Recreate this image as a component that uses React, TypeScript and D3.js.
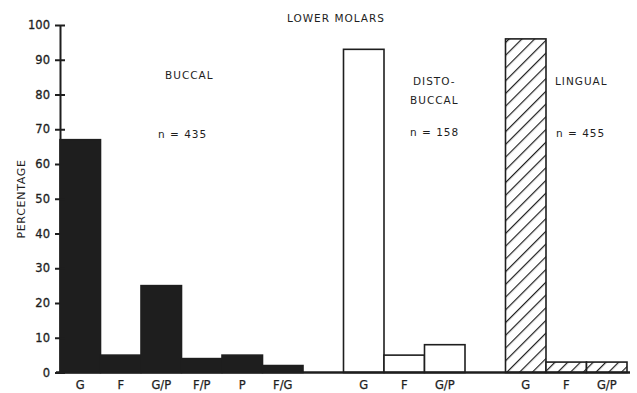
import React, { useEffect, useRef } from "react";
import * as d3 from "d3";

// values (percentage)
const buccalCats = ["G", "F", "G/P", "F/P", "P", "F/G"];
const buccalVals = [67, 5, 25, 4, 5, 2];
const distoCats = ["G", "F", "G/P"];
const distoVals = [93, 5, 8];
const lingualCats = ["G", "F", "G/P"];
const lingualVals = [96, 3, 3];
const yTicks = [0, 10, 20, 30, 40, 50, 60, 70, 80, 90, 100];

const App = () => {
  const ref = useRef<SVGSVGElement>(null);

  useEffect(() => {
    const width = 637;
    const height = 393;
    const font = "'DejaVu Sans', sans-serif";
    const ink = "#1e1e1e";

    const svg = d3.select(ref.current);
    svg.selectAll("*").remove();
    svg.attr("width", width).attr("height", height);

    // one slot per bar, with an empty slot between groups
    const rows: { key: string; cat: string; val: number; group: string }[] = [];
    buccalCats.forEach((c, i) => rows.push({ key: "b" + i, cat: c, val: buccalVals[i], group: "buccal" }));
    const slots = rows.map((r) => r.key);
    slots.push("gap1");
    distoCats.forEach((c, i) => {
      rows.push({ key: "d" + i, cat: c, val: distoVals[i], group: "disto" });
      slots.push("d" + i);
    });
    slots.push("gap2");
    lingualCats.forEach((c, i) => {
      rows.push({ key: "l" + i, cat: c, val: lingualVals[i], group: "lingual" });
      slots.push("l" + i);
    });

    const x = d3.scaleBand().domain(slots).range([60, 627]).padding(0);
    const y = d3.scaleLinear().domain([0, 100]).range([372.5, 25]);

    // hatch pattern
    const defs = svg.append("defs");
    const pat = defs
      .append("pattern")
      .attr("id", "hatch")
      .attr("patternUnits", "userSpaceOnUse")
      .attr("width", 9)
      .attr("height", 9)
      .attr("patternTransform", "rotate(45)");
    pat.append("rect").attr("width", 9).attr("height", 9).attr("fill", "#fff");
    pat
      .append("line")
      .attr("x1", 0)
      .attr("y1", 0)
      .attr("x2", 0)
      .attr("y2", 9)
      .attr("stroke", ink)
      .attr("stroke-width", 2.4);

    const fillFor = (g: string) => (g === "buccal" ? ink : g === "disto" ? "#fff" : "url(#hatch)");

    svg
      .selectAll(".bar")
      .data(rows)
      .enter()
      .append("rect")
      .attr("class", "bar")
      .attr("x", (d) => x(d.key)!)
      .attr("y", (d) => y(d.val))
      .attr("width", x.bandwidth())
      .attr("height", (d) => y(0) - y(d.val))
      .attr("fill", (d) => fillFor(d.group))
      .attr("stroke", ink)
      .attr("stroke-width", 1.6);

    // baseline
    svg
      .append("line")
      .attr("x1", 56)
      .attr("x2", 630)
      .attr("y1", y(0))
      .attr("y2", y(0))
      .attr("stroke", ink)
      .attr("stroke-width", 2.4);

    // y axis
    const yAxis = svg
      .append("g")
      .attr("transform", "translate(60,0)")
      .call(d3.axisLeft(y).tickValues(yTicks).tickSize(5).tickSizeOuter(0).tickPadding(6));
    yAxis.select(".domain").attr("stroke", ink).attr("stroke-width", 2);
    yAxis.selectAll(".tick line").attr("stroke", ink).attr("stroke-width", 2).attr("x2", 5).attr("x1", -5);
    yAxis
      .selectAll(".tick text")
      .attr("fill", ink)
      .attr("stroke", ink)
      .attr("stroke-width", 0.3)
      .attr("font-family", font)
      .attr("font-size", 11.5)
      .attr("x", -10);

    // category labels
    svg
      .selectAll(".cat")
      .data(rows)
      .enter()
      .append("text")
      .attr("class", "cat")
      .attr("x", (d) => x(d.key)! + x.bandwidth() / 2)
      .attr("y", 389)
      .attr("text-anchor", "middle")
      .attr("font-family", font)
      .attr("font-size", 11.5)
      .attr("fill", ink)
      .attr("stroke", ink)
      .attr("stroke-width", 0.25)
      .text((d) => d.cat);

    const note = (tx: number, ty: number, s: string) =>
      svg
        .append("text")
        .attr("x", tx)
        .attr("y", ty)
        .attr("font-family", font)
        .attr("font-size", 10.5)
        .attr("letter-spacing", 1)
        .attr("fill", ink)
        .text(s);

    note(287, 22, "LOWER MOLARS");
    note(165, 79, "BUCCAL");
    note(158, 138, "n = 435");
    note(413, 85, "DISTO-");
    note(410, 104, "BUCCAL");
    note(410, 136, "n = 158");
    note(555, 85, "LINGUAL");
    note(556, 137, "n = 455");

    svg
      .append("text")
      .attr("transform", "translate(25,199) rotate(-90)")
      .attr("text-anchor", "middle")
      .attr("font-family", font)
      .attr("font-size", 11)
      .attr("letter-spacing", 0.7)
      .attr("fill", ink)
      .text("PERCENTAGE");
  }, []);

  return <svg ref={ref} style={{ position: "absolute", left: 0, top: 0, background: "#fff" }}></svg>;
};

export default App;
